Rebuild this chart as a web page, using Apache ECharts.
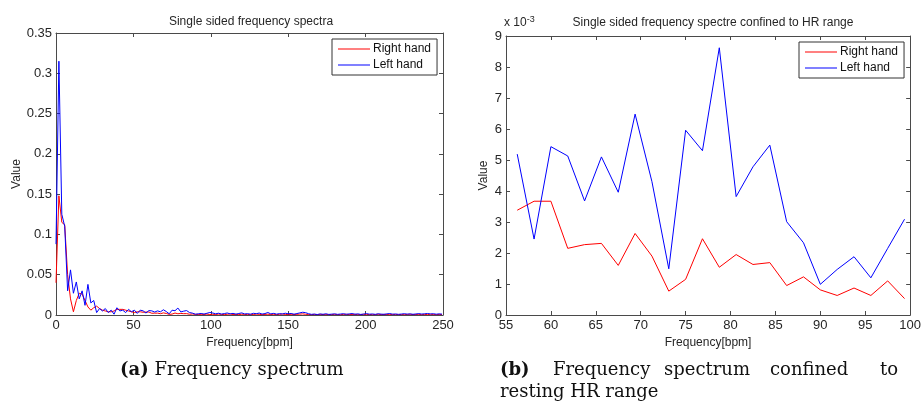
<!DOCTYPE html>
<html>
<head>
<meta charset="utf-8">
<script src="https://cdn.jsdelivr.net/npm/echarts@6.0.0/dist/echarts.min.js"></script>
<style>
html,body{margin:0;padding:0;background:#fff;}
#chart{width:924px;height:405px;}
</style>
</head>
<body>
<div id="chart"></div>
<script>
// ---- Panel (a): full single-sided spectrum ----
const freqFull = [0, 1.875, 3.75, 5.625, 7.5, 9.375, 11.25, 13.125, 15, 16.875, 18.75, 20.625, 22.5, 24.375, 26.25, 28.125, 30, 31.875, 33.75, 35.625, 37.5, 39.375, 41.25, 43.125, 45, 46.875, 48.75, 50.625, 52.5, 54.375, 56.25, 58.125, 60, 61.875, 63.75, 65.625, 67.5, 69.375, 71.25, 73.125, 75, 76.875, 78.75, 80.625, 82.5, 84.375, 86.25, 88.125, 90, 91.875, 93.75, 95.625, 97.5, 99.375, 101.25, 103.125, 105, 106.875, 108.75, 110.625, 112.5, 114.375, 116.25, 118.125, 120, 121.875, 123.75, 125.625, 127.5, 129.375, 131.25, 133.125, 135, 136.875, 138.75, 140.625, 142.5, 144.375, 146.25, 148.125, 150, 151.875, 153.75, 155.625, 157.5, 159.375, 161.25, 163.125, 165, 166.875, 168.75, 170.625, 172.5, 174.375, 176.25, 178.125, 180, 181.875, 183.75, 185.625, 187.5, 189.375, 191.25, 193.125, 195, 196.875, 198.75, 200.625, 202.5, 204.375, 206.25, 208.125, 210, 211.875, 213.75, 215.625, 217.5, 219.375, 221.25, 223.125, 225, 226.875, 228.75, 230.625, 232.5, 234.375, 236.25, 238.125, 240, 241.875, 243.75, 245.625, 247.5, 249.375];

const rightHandFull = [0.04, 0.148, 0.115, 0.112, 0.05, 0.02, 0.004, 0.018, 0.027, 0.026, 0.018, 0.01, 0.006, 0.009, 0.011, 0.008, 0.006, 0.005, 0.004, 0.004, 0.005, 0.007, 0.007, 0.007, 0.006, 0.005, 0.004, 0.003, 0.004, 0.004,
  0.00338, 0.00367, 0.00367, 0.00215, 0.00227, 0.00231, 0.0016, 0.00263, 0.0019, 0.00077, 0.00115, 0.00246, 0.00154, 0.00195, 0.00163, 0.00169, 0.00095, 0.00123, 0.00081, 0.00063, 0.00087, 0.00063, 0.0011, 0.00053,
  0.0009, 0.0006, 0.0011, 0.0007, 0.0005, 0.0009, 0.0012, 0.0006, 0.0008, 0.0004,
  0.001, 0.0007, 0.0005, 0.0009, 0.0006, 0.0011, 0.0008, 0.0004, 0.0007, 0.001,
  0.0006, 0.0009, 0.0005, 0.0008, 0.0012, 0.0007, 0.0005, 0.0009, 0.0006, 0.0008,
  0.0011, 0.0014, 0.0009, 0.0006, 0.0004, 0.0007, 0.0005, 0.0008, 0.0006, 0.0004,
  0.0007, 0.0005, 0.0008, 0.0006, 0.0004, 0.0007, 0.0009, 0.0005, 0.0006, 0.0008,
  0.0004, 0.0006, 0.0008, 0.0005, 0.0007, 0.0004, 0.0006, 0.0009, 0.0005, 0.0007,
  0.0006, 0.0004, 0.0008, 0.0005, 0.0007, 0.0006, 0.0004, 0.0007, 0.0009, 0.0005,
  0.0006, 0.0008, 0.0004, 0.0007, 0.0005, 0.0009, 0.0006, 0.0004, 0.0007, 0.0005];

const leftHandFull = [0.088, 0.315, 0.125, 0.11, 0.03, 0.056, 0.027, 0.041, 0.02, 0.03, 0.012, 0.038, 0.015, 0.018, 0.003, 0.008, 0.005, 0.008, 0.003, 0.006, 0.001, 0.009, 0.005, 0.006, 0.003, 0.007, 0.004, 0.006, 0.002, 0.006,
  0.00519, 0.00245, 0.00543, 0.00513, 0.00368, 0.0051, 0.00396, 0.00648, 0.0043, 0.00149, 0.00596, 0.0053, 0.00862, 0.00382, 0.00478, 0.00548, 0.00301, 0.00233, 0.00099, 0.00147, 0.00188, 0.0012, 0.00215, 0.00309,
  0.0025, 0.0015, 0.0022, 0.0012, 0.0018, 0.0025, 0.0014, 0.002, 0.0011, 0.0019,
  0.0026, 0.0013, 0.0017, 0.0009, 0.0021, 0.0016, 0.0024, 0.0012, 0.0018, 0.0031,
  0.0014, 0.002, 0.0011, 0.0017, 0.0013, 0.0022, 0.0015, 0.0019, 0.001, 0.0018,
  0.0026, 0.0034, 0.0029, 0.0016, 0.0008, 0.0012, 0.0006, 0.0013, 0.0009, 0.0015,
  0.0007, 0.0011, 0.0014, 0.0008, 0.0012, 0.0016, 0.0009, 0.0013, 0.0018, 0.001,
  0.0014, 0.0007, 0.0012, 0.0017, 0.001, 0.0013, 0.0008, 0.0015, 0.0011, 0.0009,
  0.0014, 0.0018, 0.001, 0.0013, 0.0008, 0.0012, 0.0016, 0.0011, 0.0014, 0.0009,
  0.0013, 0.0017, 0.0012, 0.0015, 0.0019, 0.0013, 0.0016, 0.001, 0.0014, 0.0011];

// ---- Panel (b): spectrum confined to resting HR range ----
const freqHR = [56.25, 58.125, 60, 61.875, 63.75, 65.625, 67.5, 69.375, 71.25, 73.125, 75, 76.875, 78.75, 80.625, 82.5, 84.375, 86.25, 88.125, 90, 91.875, 93.75, 95.625, 97.5, 99.375];
const rightHandHR = [0.00338, 0.00367, 0.00367, 0.00215, 0.00227, 0.00231, 0.0016, 0.00263, 0.0019, 0.00077, 0.00115, 0.00246, 0.00154, 0.00195, 0.00163, 0.00169, 0.00095, 0.00123, 0.00081, 0.00063, 0.00087, 0.00063, 0.0011, 0.00053];
const leftHandHR = [0.00519, 0.00245, 0.00543, 0.00513, 0.00368, 0.0051, 0.00396, 0.00648, 0.0043, 0.00149, 0.00596, 0.0053, 0.00862, 0.00382, 0.00478, 0.00548, 0.00301, 0.00233, 0.00099, 0.00147, 0.00188, 0.0012, 0.00215, 0.00309];

const seriesNames = ['Right hand', 'Left hand'];
const titles = ['Single sided frequency spectra', 'Single sided frequency spectre confined to HR range'];
const xName = 'Frequency[bpm]';
const yName = 'Value';

const zip = (xs, ys) => xs.map((x, i) => [x, ys[i]]);

const AX = '#4a4a4a';
const TXT = '#262626';
const FONT = 'Liberation Sans, Arial, sans-serif';
const SERIF = '"DejaVu Serif", serif';
const CAP = '18px ' + SERIF;

function xAx(grid, min, max, interval, pos) {
  const bottom = pos === 'bottom';
  return {
    type: 'value', gridIndex: grid, min: min, max: max, interval: interval, position: pos,
    axisLine: { show: true, onZero: false, lineStyle: { color: AX, width: 1 } },
    axisTick: { show: true, inside: true, length: 4, lineStyle: { color: AX } },
    splitLine: { show: false },
    axisLabel: { show: bottom, color: TXT, fontSize: 13, fontFamily: FONT, margin: 4 },
    name: bottom ? xName : '', nameLocation: 'middle', nameGap: 22,
    nameTextStyle: { color: TXT, fontSize: 12, fontFamily: FONT }
  };
}
function yAx(grid, min, max, interval, pos, gap, fmt) {
  const left = pos === 'left';
  return {
    type: 'value', gridIndex: grid, min: min, max: max, interval: interval, position: pos,
    axisLine: { show: true, onZero: false, lineStyle: { color: AX, width: 1 } },
    axisTick: { show: true, inside: true, length: 4, lineStyle: { color: AX } },
    splitLine: { show: false },
    axisLabel: { show: left, color: TXT, fontSize: 13, fontFamily: FONT, margin: 4, formatter: fmt },
    name: left ? yName : '', nameLocation: 'middle', nameGap: gap, nameRotate: 90,
    nameTextStyle: { color: TXT, fontSize: 12, fontFamily: FONT }
  };
}

function line(name, xi, yi, data, color) {
  return {
    name: name, type: 'line', xAxisIndex: xi, yAxisIndex: yi, data: data,
    symbol: 'none', showSymbol: false, smooth: false,
    lineStyle: { color: color, width: 1 }, itemStyle: { color: color },
    emphasis: { disabled: true }, silent: true
  };
}

function legend(left, top) {
  return {
    data: seriesNames, left: left, top: top, orient: 'vertical',
    icon: 'rect', itemWidth: 32, itemHeight: 1, itemGap: 4,
    padding: [4, 6, 4, 6], borderColor: '#333', borderWidth: 1, backgroundColor: '#fff',
    selectedMode: false,
    textStyle: { color: '#111', fontSize: 12, fontFamily: FONT, padding: [0, 0, 0, -2] }
  };
}

const chart = echarts.init(document.getElementById('chart'), null, { renderer: 'canvas' });
chart.setOption({
  animation: false,
  backgroundColor: '#fff',
  title: [
    { text: titles[0], left: 246, top: 11, textAlign: 'center',
      textStyle: { color: TXT, fontSize: 12, fontWeight: 'normal', fontFamily: FONT } },
    { text: titles[1], left: 708, top: 12, textAlign: 'center',
      textStyle: { color: TXT, fontSize: 12, fontWeight: 'normal', fontFamily: FONT } }
  ],
  grid: [
    { left: 56, top: 33, width: 387, height: 282 },
    { left: 506, top: 36, width: 405, height: 279 }
  ],
  xAxis: [
    xAx(0, 0, 250, 50, 'bottom'),
    xAx(0, 0, 250, 50, 'top'),
    xAx(1, 55, 100, 5, 'bottom'),
    xAx(1, 55, 100, 5, 'top')
  ],
  yAxis: [
    yAx(0, 0, 0.35, 0.05, 'left', 33, v => String(Math.round(v * 100) / 100)),
    yAx(0, 0, 0.35, 0.05, 'right', 0, null),
    yAx(1, 0, 0.009, 0.001, 'left', 16, v => String(Math.round(v * 1000))),
    yAx(1, 0, 0.009, 0.001, 'right', 0, null)
  ],
  legend: [legend(332, 39), legend(799, 42)],
  series: [
    line(seriesNames[0], 0, 0, zip(freqFull, rightHandFull), '#ff0000'),
    line(seriesNames[1], 0, 0, zip(freqFull, leftHandFull), '#0000ff'),
    line(seriesNames[0], 2, 2, zip(freqHR, rightHandHR), '#ff0000'),
    line(seriesNames[1], 2, 2, zip(freqHR, leftHandHR), '#0000ff')
  ],
  graphic: [
    { type: 'text', left: 504, top: 15,
      style: { text: '{a|x 10}{s|-3}', fill: TXT,
        rich: { a: { fontSize: 12, fontFamily: FONT, fill: TXT }, s: { fontSize: 9, fontFamily: FONT, fill: TXT, verticalAlign: 'top', padding: [0, 0, 6, 0] } } } },
    { type: 'text', left: 120, top: 361,
      style: { text: '{b|(a)} Frequency spectrum', fill: '#111', font: CAP,
        rich: { b: { fontWeight: 'bold', fontSize: 18, fontFamily: 'DejaVu Serif', fill: '#111' } } } },
    { type: 'text', left: 500, top: 361, style: { text: '{b|(b)}', fill: '#111', font: CAP,
        rich: { b: { fontWeight: 'bold', fontSize: 18, fontFamily: 'DejaVu Serif', fill: '#111' } } } },
    { type: 'text', left: 553, top: 361, style: { text: 'Frequency', fill: '#111', font: CAP } },
    { type: 'text', left: 664, top: 361, style: { text: 'spectrum', fill: '#111', font: CAP } },
    { type: 'text', left: 770, top: 361, style: { text: 'confined', fill: '#111', font: CAP } },
    { type: 'text', right: 26, top: 361, style: { text: 'to', fill: '#111', font: CAP } },
    { type: 'text', left: 500, top: 383, style: { text: 'resting HR range', fill: '#111', font: CAP } }
  ]
});
</script>
</body>
</html>
